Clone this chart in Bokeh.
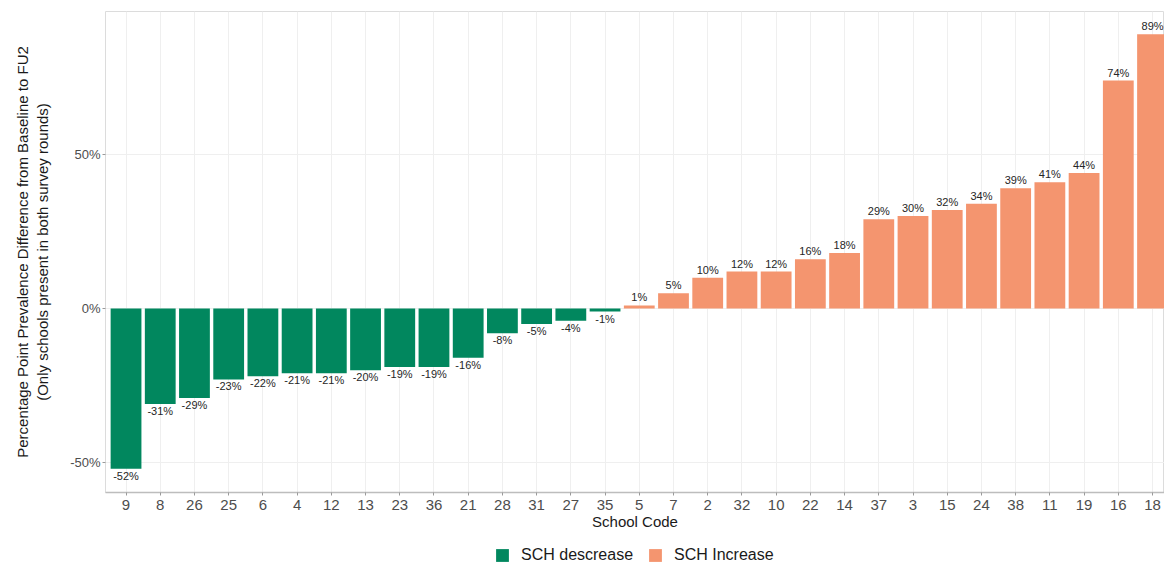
from bokeh.plotting import figure
from bokeh.layouts import column
from bokeh.models import Range1d, FixedTicker, ColumnDataSource, Legend, LegendItem
from bokeh.core.properties import value
from bokeh.embed import file_html
from bokeh.resources import INLINE

# school codes, in plotted order (sorted by difference)
schools = ["9", "8", "26", "25", "6", "4", "12", "13", "23", "36", "21", "28", "31", "27", "35",
           "5", "7", "2", "32", "10", "22", "14", "37", "3", "15", "24", "38", "11", "19", "16", "18"]
# percentage point difference baseline -> FU2
diff = [-52, -31, -29, -23, -22, -21, -21, -20, -19, -19, -16, -8, -5, -4, -1,
        1, 5, 10, 12, 12, 16, 18, 29, 30, 32, 34, 39, 41, 44, 74, 89]
y_ticks = [-50, 0, 50]
y_tick_labels = ["-50%", "0%", "50%"]
legend_labels = ["SCH descrease", "SCH Increase"]

GREEN = "#01875E"
SALMON = "#F4956F"
FONT = "Liberation Sans"

xs = list(range(1, len(schools) + 1))
neg = ColumnDataSource(dict(x=[x for x, d in zip(xs, diff) if d < 0],
                            top=[d for d in diff if d < 0],
                            lab=["%d%%" % d for d in diff if d < 0]))
pos = ColumnDataSource(dict(x=[x for x, d in zip(xs, diff) if d >= 0],
                            top=[d for d in diff if d >= 0],
                            lab=["%d%%" % d for d in diff if d >= 0]))

fig = figure(width=1164, height=537, output_backend="svg", toolbar_location=None,
             x_range=Range1d(0.4, 31.35), y_range=Range1d(-59.7, 96.4),
             min_border_top=11, min_border_right=0, min_border_left=105, min_border_bottom=45)

fig.vbar(x="x", top="top", bottom=0, width=0.9, source=neg, color=GREEN, line_color=None)
fig.vbar(x="x", top="top", bottom=0, width=0.9, source=pos, color=SALMON, line_color=None)

fig.text(x="x", y="top", text="lab", source=neg, text_align="center", text_baseline="top",
         y_offset=1, text_font_size="11px", text_font=value(FONT), text_color="#262626")
fig.text(x="x", y="top", text="lab", source=pos, text_align="center", text_baseline="bottom",
         y_offset=-2, text_font_size="11px", text_font=value(FONT), text_color="#262626")

fig.background_fill_color = "white"
fig.outline_line_color = "#DCDCDC"
fig.xgrid.ticker = FixedTicker(ticks=xs)
fig.ygrid.ticker = FixedTicker(ticks=y_ticks)
fig.xgrid.grid_line_color = "#EFEFEF"
fig.ygrid.grid_line_color = "#EFEFEF"

fig.xaxis.ticker = FixedTicker(ticks=xs)
fig.xaxis.major_label_overrides = {x: s for x, s in zip(xs, schools)}
fig.yaxis.ticker = FixedTicker(ticks=y_ticks)
fig.yaxis.major_label_overrides = {t: l for t, l in zip(y_ticks, y_tick_labels)}
fig.xaxis.minor_tick_line_color = None
fig.yaxis.minor_tick_line_color = None

for ax in (fig.xaxis, fig.yaxis):
    ax.major_tick_in = 0
    ax.major_tick_out = 3
    ax.major_tick_line_color = "#9A9A9A"
    ax.major_label_text_font = FONT
    ax.major_label_text_color = "#4D4D4D"
    ax.axis_label_text_font = FONT
    ax.axis_label_text_font_style = "normal"
    ax.axis_label_text_color = "#1A1A1A"
    ax.axis_label_text_font_size = "15px"

fig.xaxis.axis_line_color = "#BDBDBD"
fig.xaxis.axis_line_width = 1.5
fig.yaxis.axis_line_color = None
fig.xaxis.major_label_text_font_size = "15px"
fig.yaxis.major_label_text_font_size = "13px"
fig.xaxis.major_label_standoff = 4
fig.yaxis.major_label_standoff = 2
fig.xaxis.axis_label = "School Code"
fig.xaxis.axis_label_standoff = 0
fig.yaxis.axis_label = "Percentage Point Prevalence Difference from Baseline to FU2\n(Only schools present in both survey rounds)"
fig.yaxis.axis_label_standoff = 16

# legend strip under the chart (its frame gets aligned with the chart frame)
leg = figure(width=1164, height=28, output_backend="svg", toolbar_location=None,
             x_range=Range1d(-10, -9), y_range=Range1d(0, 1),
             x_axis_type=None, y_axis_type=None, min_border=0)
leg.outline_line_color = None
leg.xgrid.visible = False
leg.ygrid.visible = False
items = []
for lab, src, col in zip(legend_labels, [neg, pos], [GREEN, SALMON]):
    r = leg.vbar(x="x", top="top", bottom=0, width=0.9, source=src, color=col, line_color=None)
    items.append(LegendItem(label=lab, renderers=[r]))
legend = Legend(items=items, orientation="horizontal", location=(389, 1),
                glyph_width=16, glyph_height=16, label_standoff=11, spacing=14,
                label_text_font=FONT, label_text_font_size="16px", label_text_color="#1A1A1A",
                label_height=16, border_line_color=None, background_fill_alpha=0,
                padding=0, margin=0)
leg.add_layout(legend)

p = column(fig, leg, spacing=0)

open("out.html", "w").write(file_html(p, INLINE))
